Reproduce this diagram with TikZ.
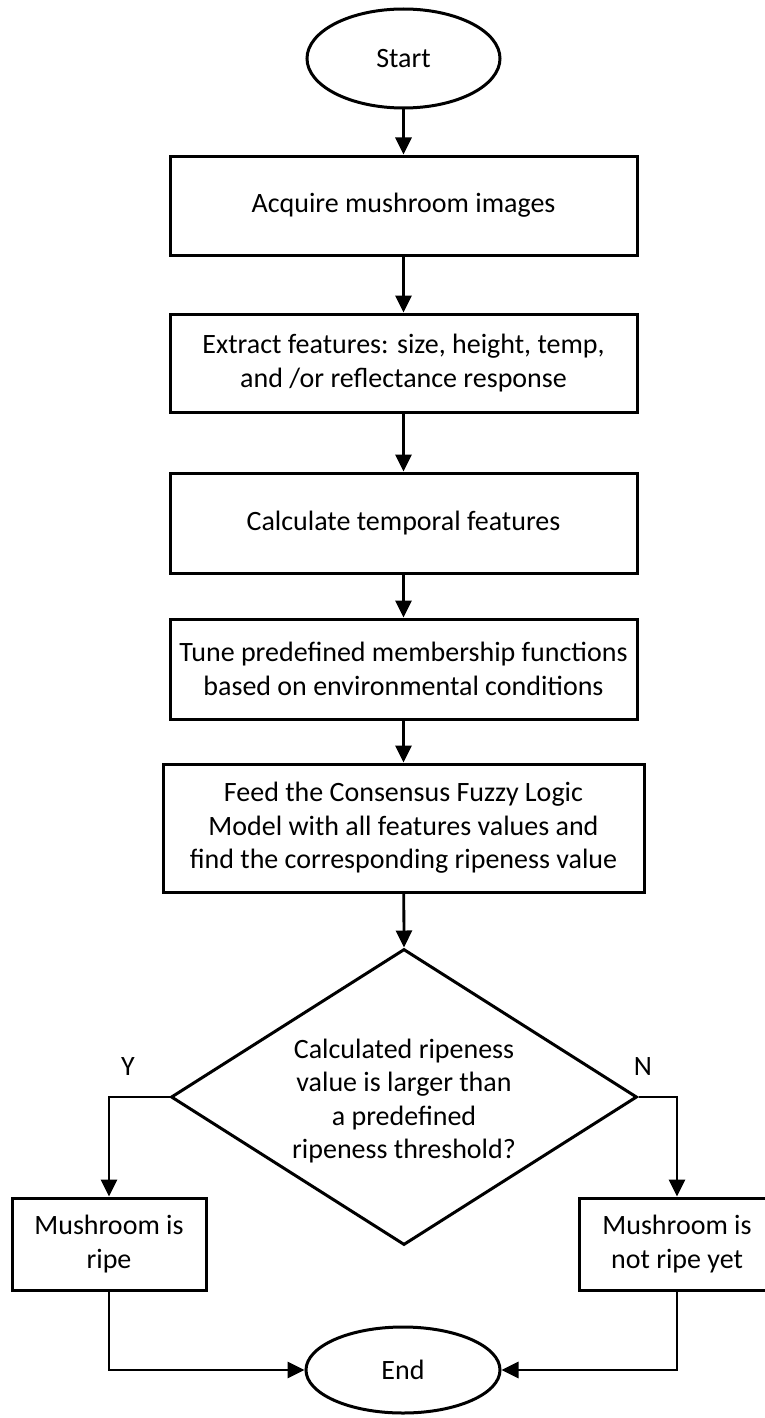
\documentclass[tikz,border=0pt]{standalone}
\usepackage{fontspec}
\setmainfont{Carlito}
\usetikzlibrary{shapes.geometric,arrows.meta}
\begin{document}
\begin{tikzpicture}[x=1pt,y=-1pt,
  every node/.style={font=\fontsize{28}{33.5}\selectfont},
  arr/.style={line width=2.8pt, -{Triangle[width=16pt,length=17pt]}},
  box/.style={draw, line width=3pt, rectangle, align=center, inner sep=0pt},
  term/.style={draw, line width=3pt, ellipse, inner sep=0pt},
  decision/.style={draw, line width=3pt, diamond, inner sep=0pt}]
\useasboundingbox (0,0) rectangle (765,1418);
\clip (0,0) rectangle (765,1418);
\node[term, minimum width=193pt, minimum height=99pt] (start) at (403.5,58.5) {Start};
\node[box, minimum width=467pt, minimum height=99pt] (b1) at (403.5,205.5) {Acquire mushroom images};
\node[box, minimum width=467pt, minimum height=98pt] (b2) at (403.5,363) {Extract features: size, height, temp,\\and /or reflectance response};
\node[box, minimum width=467pt, minimum height=100pt] (b3) at (403.5,523) {Calculate temporal features};
\node[box, minimum width=467pt, minimum height=100pt] (b4) at (403.5,669) {Tune predefined membership functions\\based on environmental conditions};
\node[box, minimum width=481pt, minimum height=128pt] (b5) at (403.5,828) {Feed the Consensus Fuzzy Logic\\Model with all features values and\\find the corresponding ripeness value};
\node[decision, minimum width=466pt, minimum height=296pt] (dec) at (404,1097) {};
\node[align=center] (dectext) at (404,1101) {Calculated ripeness\\value is larger than\\a predefined\\ripeness threshold?};
\node[box, minimum width=194pt, minimum height=92pt] (ripe) at (109,1244) {Mushroom is\\ripe};
\node[box, minimum width=196pt, minimum height=92pt] (notripe) at (677,1244) {Mushroom is\\not ripe yet};
\node[term, minimum width=194pt, minimum height=86pt] (end) at (403,1370) {End};
\node (ylab) at (128,1067) {Y};
\node (nlab) at (643,1067) {N};
\draw[arr] (start) -- (b1);
\draw[arr] (b1) -- (b2);
\draw[arr] (b2) -- (b3);
\draw[arr] (b3) -- (b4);
\draw[arr] (b4) -- (b5);
\draw[arr] (b5) -- (dec.north);
\draw[arr] (dec.west) -| (ripe.north);
\draw[arr] (dec.east) -| (notripe.north);
\draw[arr] (ripe.south) |- (end.west);
\draw[arr] (notripe.south) |- (end.east);
\end{tikzpicture}
\end{document}
